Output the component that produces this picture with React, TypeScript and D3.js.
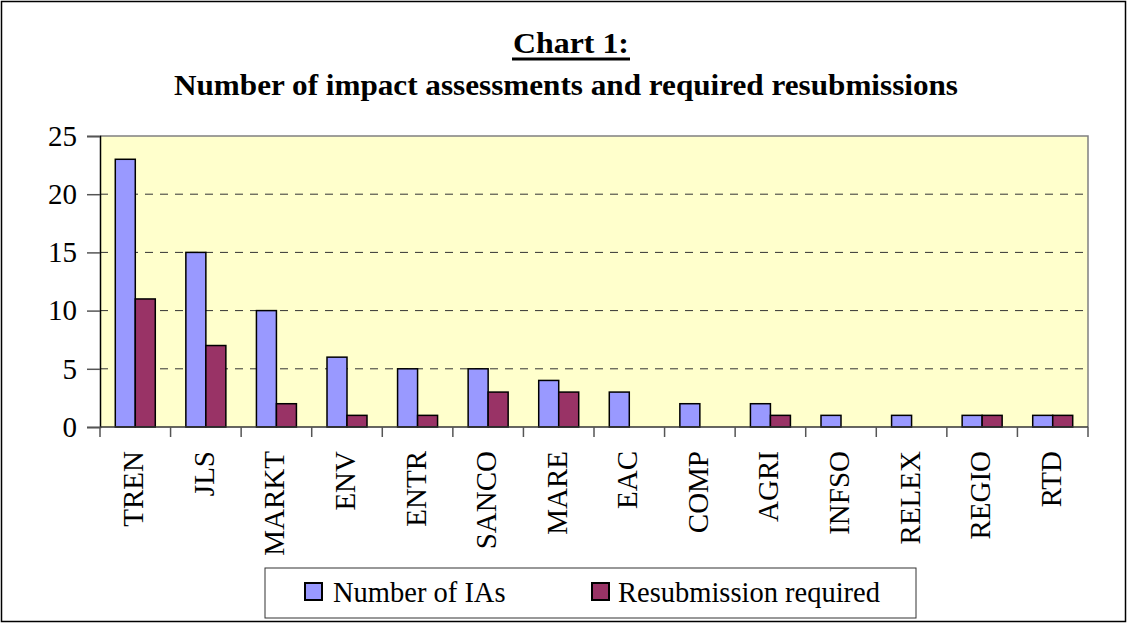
import { useRef, useEffect } from 'react'
import * as d3 from 'd3'

const categories = ['TREN', 'JLS', 'MARKT', 'ENV', 'ENTR', 'SANCO', 'MARE', 'EAC', 'COMP', 'AGRI', 'INFSO', 'RELEX', 'REGIO', 'RTD']
const numberOfIAs = [23, 15, 10, 6, 5, 5, 4, 3, 2, 2, 1, 1, 1, 1]
const resubmissions = [11, 7, 2, 1, 1, 3, 3, 0, 0, 1, 0, 0, 1, 1]
const seriesNames = ['Number of IAs', 'Resubmission required']
const yTicks = [0, 5, 10, 15, 20, 25]

const App = () => {
    const svgRef = useRef<SVGSVGElement>(null)

    useEffect(() => {
        const w = 1128
        const h = 626
        const svg = d3.select(svgRef.current)
        svg.selectAll('*').remove()
        svg.attr('width', w).attr('height', h)

        const font = 'Times New Roman, Liberation Serif, serif'
        const m = { left: 100, right: 1088, top: 136, bottom: 427 }
        const colors = ['#9999ff', '#993366']
        const series = [numberOfIAs, resubmissions]

        // outer frame
        svg.append('rect')
            .attr('x', 1.5).attr('y', 1.5)
            .attr('width', w - 4).attr('height', 620)
            .attr('fill', 'white').attr('stroke', 'black').attr('stroke-width', 1.5)

        // titles
        svg.append('text')
            .attr('x', 571).attr('y', 53)
            .attr('text-anchor', 'middle')
            .attr('textLength', 116).attr('lengthAdjust', 'spacingAndGlyphs')
            .style('font-family', font).style('font-weight', 'bold').style('font-size', '30px')
            .text('Chart 1:')
        svg.append('line')
            .attr('x1', 512).attr('x2', 630).attr('y1', 59).attr('y2', 59)
            .attr('stroke', 'black').attr('stroke-width', 3)
        svg.append('text')
            .attr('x', 566).attr('y', 95)
            .attr('text-anchor', 'middle')
            .attr('textLength', 784).attr('lengthAdjust', 'spacingAndGlyphs')
            .style('font-family', font).style('font-weight', 'bold').style('font-size', '29px')
            .text('Number of impact assessments and required resubmissions')

        // scales
        const x = d3.scaleBand().domain(categories).range([m.left, m.right])
        const inner = d3.scaleBand().domain(['0', '1']).range([0, 40])
        const xOff = (x.bandwidth() - 40) / 2
        const y = d3.scaleLinear().domain([0, 25]).range([m.bottom, m.top])

        // plot background
        svg.append('rect')
            .attr('x', m.left).attr('y', m.top)
            .attr('width', m.right - m.left).attr('height', m.bottom - m.top)
            .attr('fill', '#ffffcc')

        // gridlines
        svg.append('g')
            .selectAll('line')
            .data(yTicks.filter(t => t > 0 && t < 25))
            .join('line')
                .attr('x1', m.left).attr('x2', m.right)
                .attr('y1', d => y(d)).attr('y2', d => y(d))
                .attr('stroke', '#333').attr('stroke-width', 1)
                .attr('stroke-dasharray', '8,7')

        // top & right border
        svg.append('path')
            .attr('d', `M${m.left},${m.top}H${m.right}V${m.bottom}`)
            .attr('fill', 'none').attr('stroke', '#808080').attr('stroke-width', 1.5)

        // bars
        series.forEach((vals, si) => {
            svg.append('g')
                .selectAll('rect')
                .data(vals)
                .join('rect')
                    .attr('x', (d, i) => (x(categories[i]) ?? 0) + xOff + (inner(String(si)) ?? 0))
                    .attr('y', d => y(d))
                    .attr('width', inner.bandwidth())
                    .attr('height', d => m.bottom - y(d))
                    .attr('fill', colors[si])
                    .attr('stroke', 'black').attr('stroke-width', 1.5)
        })

        // y axis
        const yAxis = d3.axisLeft(y).tickValues(yTicks).tickSize(13).tickPadding(10)
        const gy = svg.append('g').attr('transform', `translate(${m.left},0)`).call(yAxis)
        gy.select('.domain').attr('stroke', 'black').attr('stroke-width', 1.5)
        gy.selectAll('.tick line').attr('stroke', '#555').attr('stroke-width', 1.5)
        gy.selectAll('.tick text')
            .style('font-family', font).style('font-size', '29px').attr('fill', 'black')
            .attr('dy', '0.32em')

        // x axis with ticks at category boundaries
        const gx = svg.append('g')
        gx.append('line')
            .attr('x1', m.left).attr('x2', m.right)
            .attr('y1', m.bottom).attr('y2', m.bottom)
            .attr('stroke', '#333').attr('stroke-width', 1.5)
        gx.selectAll('line.tk')
            .data(d3.range(categories.length + 1))
            .join('line')
                .attr('class', 'tk')
                .attr('x1', i => m.left + i * x.step()).attr('x2', i => m.left + i * x.step())
                .attr('y1', m.bottom).attr('y2', m.bottom + 10)
                .attr('stroke', '#555').attr('stroke-width', 1.5)
        gx.selectAll('text')
            .data(categories)
            .join('text')
                .attr('transform', d => `translate(${(x(d) ?? 0) + x.bandwidth() / 2 + 8},451) rotate(-90)`)
                .attr('text-anchor', 'end')
                .style('font-family', font).style('font-size', '29px')
                .text(d => d)

        // legend
        const lg = svg.append('g')
        lg.append('rect')
            .attr('x', 265).attr('y', 568).attr('width', 651).attr('height', 50)
            .attr('fill', 'white').attr('stroke', '#333').attr('stroke-width', 1)
        const items = [{ x: 305, tx: 333 }, { x: 592, tx: 618 }]
        items.forEach((it, i) => {
            lg.append('rect')
                .attr('x', it.x).attr('y', 583).attr('width', 17).attr('height', 17)
                .attr('fill', colors[i]).attr('stroke', 'black').attr('stroke-width', 2)
            lg.append('text')
                .attr('x', it.tx).attr('y', 602)
                .style('font-family', font).style('font-size', '28.5px')
                .text(seriesNames[i])
        })
    }, [])

    return (
        <div style={{ position: 'absolute', left: 0, top: 0 }}>
            <svg ref={svgRef}></svg>
        </div>
    )
}

export default App
